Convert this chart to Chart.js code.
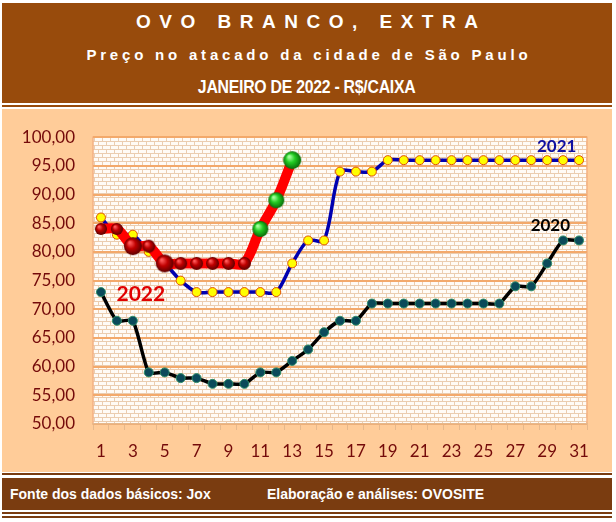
<!DOCTYPE html>
<html>
<head>
<meta charset="utf-8">
<script src="https://cdn.jsdelivr.net/npm/chart.js@4/dist/chart.umd.min.js"></script>
<style>
    html, body { margin: 0; padding: 0; background: #ffffff; }
    body { width: 616px; height: 522px; position: relative; overflow: hidden; font-family: "Liberation Sans", Arial, sans-serif; }
    .bar { position: absolute; left: 2px; width: 610px; }
    #header { top: 3px; height: 100px; background: #984b0c; color: #fff; }
    #header div { position: absolute; left: 0; width: 100%; text-align: center; font-weight: bold; white-space: nowrap; }
    #t1 { top: 8px; font-size: 19px; letter-spacing: 8.5px; text-indent: 8.5px; }
    #t2 { top: 43px; font-size: 15px; letter-spacing: 3.8px; text-indent: 3.8px; }
    #t3 { top: 74px; font-size: 18px; }
    #t3 span { display: inline-block; transform: scaleX(0.88); letter-spacing: -0.3px; }
    #panel { top: 109px; height: 363px; background: #ffcc99; }
    #footer { top: 478px; height: 32px; background: #7a3c10; color: #fff; font-weight: bold; font-size: 14px; }
    #footer span { position: absolute; top: 8px; white-space: nowrap; }
</style>
</head>
<body>
<div class="bar" id="header">
    <div id="t1">OVO BRANCO, EXTRA</div>
    <div id="t2">Preço no atacado da cidade de São Paulo</div>
    <div id="t3"><span>JANEIRO DE 2022 - R$/CAIXA</span></div>
</div>
<div class="bar" style="top:105px;height:2px;background:#984b0c"></div>
<div class="bar" id="panel"><canvas id="chart" width="610" height="363"></canvas></div>
<div class="bar" style="top:473px;height:2px;background:#7a3c10"></div>
<div class="bar" id="footer">
    <span style="left:8px">Fonte dos dados básicos: Jox</span>
    <span style="left:265px">Elaboração e análises: OVOSITE</span>
</div>
<div class="bar" style="top:512px;height:2px;background:#7a3c10"></div>
<div class="bar" style="top:516px;height:2px;background:#7a3c10"></div>

<script>
// dias de janeiro
const days = [];
for (let d = 1; d <= 31; d++) days.push(String(d));

const prices2020 = [73, 68, 68, 59, 59, 58, 58, 57, 57, 57, 59, 59, 61, 63, 66, 68,
    68, 71, 71, 71, 71, 71, 71, 71, 71, 71, 74, 74, 78, 82, 82];
const prices2021 = [86, 83, 83, 80, 78, 75, 73, 73, 73, 73, 73, 73, 78, 82, 82, 94,
    94, 94, 96, 96, 96, 96, 96, 96, 96, 96, 96, 96, 96, 96, 96];
const prices2022 = [84, 84, 81, 81, 78, 78, 78, 78, 78, 78, 84, 89, 96];

const yTicks = [50, 55, 60, 65, 70, 75, 80, 85, 90, 95, 100];

// bolinhas 3D da serie 2022
function sphere(r, light, mid, dark) {
    const c = document.createElement('canvas');
    const s = Math.ceil(r * 2 + 2);
    c.width = s;
    c.height = s;
    const g = c.getContext('2d');
    const cx = s / 2, cy = s / 2;
    const grad = g.createRadialGradient(cx - r * 0.35, cy - r * 0.4, r * 0.1, cx, cy, r);
    grad.addColorStop(0, light);
    grad.addColorStop(0.45, mid);
    grad.addColorStop(1, dark);
    g.fillStyle = grad;
    g.beginPath();
    g.arc(cx, cy, r, 0, Math.PI * 2);
    g.fill();
    return c;
}

const ballSizes = [6, 6, 9, 6.5, 9, 6.5, 6.5, 6.5, 6.5, 6.5, 8, 8, 9];
const balls2022 = prices2022.map((v, i) => i >= 10
    ? sphere(ballSizes[i], '#a8ffa0', '#22cc22', '#0a6a0a')
    : sphere(ballSizes[i], '#ff5a5a', '#c00000', '#5a0000'));

const brickPlugin = {
    id: 'bricks',
    beforeDraw(chart) {
        const { ctx, chartArea: a } = chart;
        const tile = document.createElement('canvas');
        tile.width = 8;
        tile.height = 8;
        const t = tile.getContext('2d');
        t.fillStyle = '#fffbf6';
        t.fillRect(0, 0, 8, 8);
        t.fillStyle = '#ebcdb0';
        t.fillRect(0, 0, 8, 1);
        t.fillRect(0, 4, 8, 1);
        t.fillRect(0, 0, 1, 4);
        t.fillRect(4, 4, 1, 4);
        ctx.save();
        ctx.fillStyle = ctx.createPattern(tile, 'repeat');
        ctx.fillRect(a.left, a.top, a.right - a.left, a.bottom - a.top);
        ctx.strokeStyle = '#f4b183';
        ctx.lineWidth = 1.5;
        ctx.strokeRect(a.left, a.top, a.right - a.left, a.bottom - a.top);
        ctx.restore();
    }
};

const yearLabels = [
    { text: '2022', at: [2.5, 72.6], color: '#e00000', size: 21 },
    { text: '2021', at: [28.6, 98.3], color: '#1010a0', size: 17 },
    { text: '2020', at: [28.2, 84.6], color: '#000000', size: 17 }
];

const labelPlugin = {
    id: 'yearLabels',
    afterDatasetsDraw(chart) {
        const { ctx, scales } = chart;
        ctx.save();
        ctx.textAlign = 'center';
        ctx.textBaseline = 'middle';
        yearLabels.forEach(l => {
            ctx.font = 'bold ' + l.size + 'px Lato, "Open Sans", sans-serif';
            ctx.fillStyle = l.color;
            ctx.fillText(l.text, scales.x.getPixelForValue(l.at[0]), scales.y.getPixelForValue(l.at[1]));
        });
        ctx.restore();
    }
};

Chart.defaults.font.family = 'Lato, "Open Sans", sans-serif';

new Chart(document.getElementById('chart').getContext('2d'), {
    type: 'line',
    data: {
        labels: days,
        datasets: [
            {
                label: '2022',
                data: prices2022,
                borderColor: '#ff0000',
                borderWidth: 10,
                borderJoinStyle: 'round',
                borderCapStyle: 'round',
                tension: 0.3,
                pointStyle: balls2022,
                pointRadius: 6
            },
            {
                label: '2021',
                data: prices2021,
                borderColor: '#0000b0',
                borderWidth: 3.5,
                tension: 0.3,
                pointRadius: 4.5,
                pointBorderWidth: 1,
                pointBackgroundColor: '#ffff00',
                pointBorderColor: '#e05000'
            },
            {
                label: '2020',
                data: prices2020,
                borderColor: '#000000',
                borderWidth: 3.5,
                tension: 0.2,
                pointRadius: 4.5,
                pointBorderWidth: 1,
                pointBackgroundColor: '#0b4a5a',
                pointBorderColor: '#2f8f6a'
            }
        ]
    },
    options: {
        responsive: false,
        animation: false,
        layout: { padding: { left: 0, top: 23, right: 25, bottom: 0 } },
        plugins: {
            legend: { display: false },
            tooltip: { enabled: false }
        },
        scales: {
            x: {
                offset: true,
                afterFit: scale => { scale.height = 48; },
                grid: {
                    offset: true,
                    drawOnChartArea: false,
                    drawTicks: true,
                    tickLength: 6,
                    color: '#e6b88c'
                },
                border: { color: '#e6b88c', width: 1.5 },
                ticks: {
                    autoSkip: false,
                    maxRotation: 0,
                    padding: 11,
                    color: '#740a0a',
                    font: { size: 17 },
                    callback: (v, i) => (i % 2 === 0 ? days[i] : '')
                }
            },
            y: {
                min: yTicks[0],
                max: yTicks[yTicks.length - 1],
                afterFit: scale => { scale.width = 91; },
                afterBuildTicks: scale => { scale.ticks = yTicks.map(v => ({ value: v })); },
                grid: { color: '#f3a96b', lineWidth: 2, drawTicks: false },
                border: { display: false },
                ticks: {
                    padding: 18,
                    color: '#740a0a',
                    font: { size: 17 },
                    callback: v => v.toFixed(2).replace('.', ',')
                }
            }
        }
    },
    plugins: [brickPlugin, labelPlugin]
});
</script>
</body>
</html>
